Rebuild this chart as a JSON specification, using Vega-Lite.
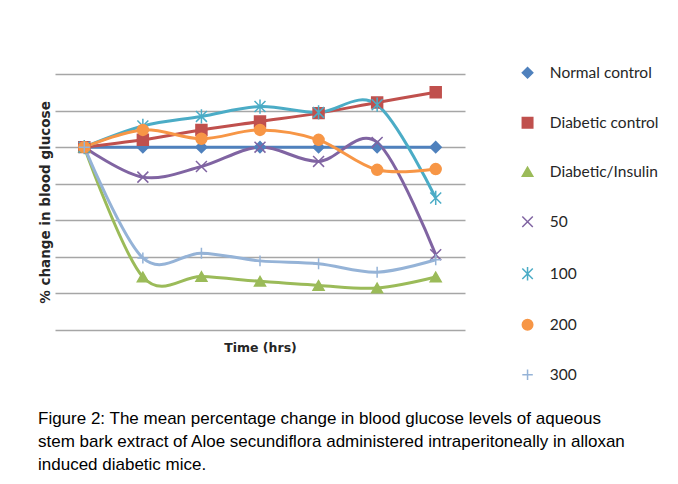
{
  "$schema": "https://vega.github.io/schema/vega-lite/v6.json",
  "width": 410,
  "height": 256,
  "autosize": {"type": "none"},
  "padding": {"left": 55, "top": 74, "right": 213, "bottom": 154},
  "background": "white",
  "config": {"view": {"stroke": null}, "font": "Lato"},
  "title": {
    "text": [
      "Figure 2: The mean percentage change in blood glucose levels of aqueous",
      "stem bark extract of Aloe secundiflora administered intraperitoneally in alloxan",
      "induced diabetic mice."
    ],
    "orient": "bottom",
    "anchor": "start",
    "frame": "group",
    "dx": -17,
    "offset": 27,
    "font": "Liberation Sans",
    "fontSize": 17,
    "fontWeight": "normal",
    "color": "#000000",
    "lineHeight": 23,
    "baseline": "top"
  },
  "data": {
    "values": [
      {"series": "Normal control", "time": 0, "value": 0},
      {"series": "Normal control", "time": 1, "value": 0},
      {"series": "Normal control", "time": 2, "value": 0},
      {"series": "Normal control", "time": 3, "value": 0},
      {"series": "Normal control", "time": 4, "value": 0},
      {"series": "Normal control", "time": 5, "value": 0},
      {"series": "Normal control", "time": 6, "value": 0},
      {"series": "Diabetic control", "time": 0, "value": 0},
      {"series": "Diabetic control", "time": 1, "value": 2.0},
      {"series": "Diabetic control", "time": 2, "value": 4.7},
      {"series": "Diabetic control", "time": 3, "value": 7.0},
      {"series": "Diabetic control", "time": 4, "value": 9.3},
      {"series": "Diabetic control", "time": 5, "value": 12.2},
      {"series": "Diabetic control", "time": 6, "value": 15.0},
      {"series": "Diabetic/Insulin", "time": 0, "value": 0},
      {"series": "Diabetic/Insulin", "time": 1, "value": -35.5},
      {"series": "Diabetic/Insulin", "time": 2, "value": -35.4},
      {"series": "Diabetic/Insulin", "time": 3, "value": -36.7},
      {"series": "Diabetic/Insulin", "time": 4, "value": -37.8},
      {"series": "Diabetic/Insulin", "time": 5, "value": -38.5},
      {"series": "Diabetic/Insulin", "time": 6, "value": -35.5},
      {"series": "50", "time": 0, "value": 0},
      {"series": "50", "time": 1, "value": -8.2},
      {"series": "50", "time": 2, "value": -5.3},
      {"series": "50", "time": 3, "value": 0},
      {"series": "50", "time": 4, "value": -3.9},
      {"series": "50", "time": 5, "value": 1.3},
      {"series": "50", "time": 6, "value": -29.4},
      {"series": "100", "time": 0, "value": 0},
      {"series": "100", "time": 1, "value": 5.8},
      {"series": "100", "time": 2, "value": 8.4},
      {"series": "100", "time": 3, "value": 11.1},
      {"series": "100", "time": 4, "value": 9.5},
      {"series": "100", "time": 5, "value": 11.6},
      {"series": "100", "time": 6, "value": -13.9},
      {"series": "200", "time": 0, "value": 0},
      {"series": "200", "time": 1, "value": 4.7},
      {"series": "200", "time": 2, "value": 2.3},
      {"series": "200", "time": 3, "value": 4.7},
      {"series": "200", "time": 4, "value": 2.0},
      {"series": "200", "time": 5, "value": -6.2},
      {"series": "200", "time": 6, "value": -6.0},
      {"series": "300", "time": 0, "value": 0},
      {"series": "300", "time": 1, "value": -30.3},
      {"series": "300", "time": 2, "value": -29.0},
      {"series": "300", "time": 3, "value": -31.1},
      {"series": "300", "time": 4, "value": -31.9},
      {"series": "300", "time": 5, "value": -34.2},
      {"series": "300", "time": 6, "value": -30.8}
    ]
  },
  "encoding": {
    "x": {
      "field": "time",
      "type": "ordinal",
      "scale": {"type": "point", "padding": 0.5},
      "axis": {
        "title": "Time (hrs)",
        "labels": false,
        "ticks": false,
        "domain": false,
        "grid": false,
        "titleY": 17,
        "titleBaseline": "middle",
        "titleFont": "DejaVu Sans",
        "titleFontSize": 12.5,
        "titleFontWeight": "bold",
        "titleColor": "#262626"
      }
    },
    "y": {
      "field": "value",
      "type": "quantitative",
      "scale": {"domain": [-50, 20], "nice": false, "zero": false},
      "axis": {
        "title": "% change in blood glucose",
        "values": [-50, -40, -30, -20, -10, 0, 10, 20],
        "labels": false,
        "ticks": false,
        "domain": false,
        "grid": true,
        "gridColor": "#a6a6a6",
        "gridWidth": 1.5,
        "titleX": -10,
        "titleY": 128,
        "titleAngle": -90,
        "titleAlign": "center",
        "titleBaseline": "middle",
        "titleFont": "DejaVu Sans",
        "titleFontSize": 13.5,
        "titleFontWeight": "bold",
        "titleColor": "#262626"
      }
    }
  },
  "layer": [
    {
      "mark": {"type": "line", "interpolate": "cardinal", "strokeWidth": 3},
      "encoding": {
        "color": {
          "field": "series",
          "type": "nominal",
          "scale": {
            "domain": ["Normal control", "Diabetic control", "Diabetic/Insulin", "50", "100", "200", "300"],
            "range": ["#4F81BD", "#C0504D", "#9BBB59", "#8064A2", "#4BACC6", "#F79646", "#95B3D7"]
          },
          "legend": {
            "title": null,
            "orient": "none",
            "legendX": 464.8,
            "legendY": -9,
            "padding": 0,
            "symbolSize": 110,
            "symbolStrokeWidth": 1.5,
            "symbolOpacity": 1,
            "rowPadding": 32,
            "labelOffset": 14.5,
            "labelFont": "Lato",
            "labelFontSize": 15.5,
            "labelColor": "#262626"
          }
        }
      }
    },
    {
      "mark": {"type": "point", "filled": true, "opacity": 1, "size": 120, "strokeWidth": 1.5},
      "encoding": {
        "color": {
          "field": "series",
          "type": "nominal",
          "legend": null
        },
        "shape": {
          "field": "series",
          "type": "nominal",
          "scale": {
            "domain": ["Normal control", "Diabetic control", "Diabetic/Insulin", "50", "100", "200", "300"],
            "range": ["diamond", "square", "triangle-up", "M-1,-1L1,1M-1,1L1,-1", "M-1,-1L1,1M-1,1L1,-1M0,-1.3V1.3", "circle", "M-1,0H1M0,-1V1"]
          },
          "legend": null
        },
        "stroke": {
          "field": "series",
          "type": "nominal",
          "scale": {
            "domain": ["Normal control", "Diabetic control", "Diabetic/Insulin", "50", "100", "200", "300"],
            "range": ["#4F81BD", "#C0504D", "#9BBB59", "#8064A2", "#4BACC6", "#F79646", "#95B3D7"]
          },
          "legend": null
        }
      }
    }
  ]
}
